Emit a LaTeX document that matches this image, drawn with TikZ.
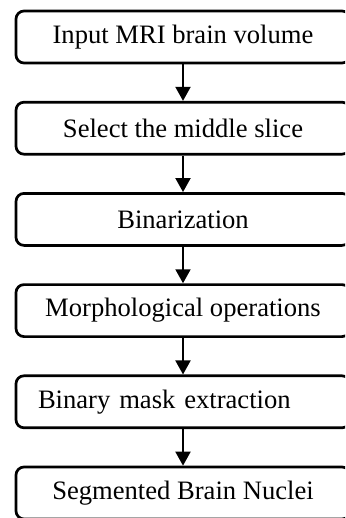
\documentclass[tikz,border=0pt]{standalone}
\usepackage{fontspec}
\setmainfont{Liberation Serif}
\usetikzlibrary{arrows.meta, positioning}

\begin{document}
\begin{tikzpicture}[
    node distance=18.25pt,
    box/.style={rectangle, draw=black, line width=1.35pt, minimum width=167pt, minimum height=26pt, rounded corners=4pt, inner sep=0pt, font=\fontsize{13.3}{16}\selectfont, align=center},
    leftbox/.style={box, text width=145pt, inner xsep=11pt, align=left},
    arrow/.style={-{Triangle[width=7.5pt, length=7pt]}, line width=1pt, draw=black}
]
\useasboundingbox (0,0) rectangle (172.5pt,-259pt);
\clip (0,0) rectangle (172.5pt,-259pt);

% Processing steps
\node[box] (input) at (91.5pt,-18.5pt) {Input MRI brain volume};
\node[box, below=of input] (slice) {Select the middle slice};
\node[box, below=of slice] (binar) {Binarization};
\node[box, below=of binar] (morph) {Morphological operations};
\node[leftbox, below=of morph] (mask) {Binary mask extraction};
\node[box, below=of mask] (nuclei) {Segmented Brain Nuclei};

% Arrows
\draw[arrow] (input) -- (slice);
\draw[arrow] (slice) -- (binar);
\draw[arrow] (binar) -- (morph);
\draw[arrow] (morph) -- (mask);
\draw[arrow] (mask) -- (nuclei);
\end{tikzpicture}
\end{document}
